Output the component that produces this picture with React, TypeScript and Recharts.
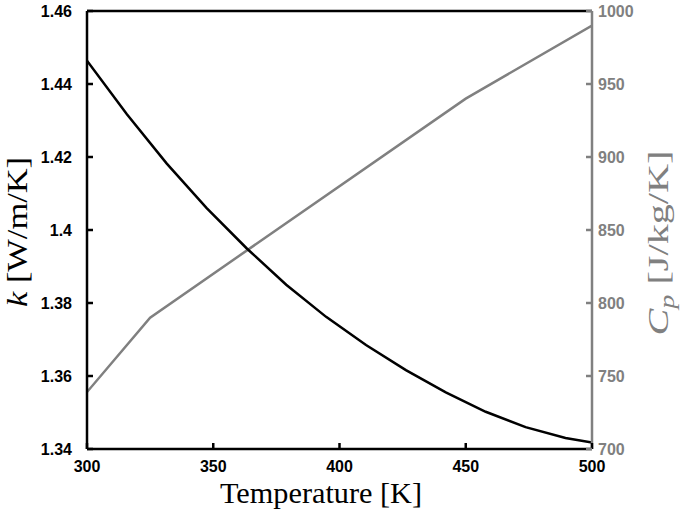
import React from 'react';
import { LineChart, Line, XAxis, YAxis } from 'recharts';

// temperature samples for the conductivity curve
const kTemps = [300, 315.8, 331.6, 347.4, 363.2, 378.9, 394.7, 410.5, 426.3, 442.1, 457.9, 473.7, 489.5, 500];
const kValues = [1.4464, 1.4317, 1.4182, 1.406, 1.395, 1.385, 1.3762, 1.3685, 1.3616, 1.3555, 1.3502, 1.346, 1.343, 1.3418];

// heat capacity breakpoints
const cpTemps = [300, 325, 450, 500];
const cpValues = [739, 790, 940, 990];

const tempTicks = [300, 350, 400, 450, 500];
const kTicks = [1.34, 1.36, 1.38, 1.4, 1.42, 1.44, 1.46];
const cpTicks = [700, 750, 800, 850, 900, 950, 1000];

const kData = kTemps.map((t, i) => ({ T: t, k: kValues[i] }));
const cpData = cpTemps.map((t, i) => ({ T: t, cp: cpValues[i] }));

const GRAY = '#808080';
const tickFont = { fontFamily: '"Liberation Sans", Arial, sans-serif', fontWeight: 700, fontSize: 16 };
const labelFont = { fontFamily: '"Liberation Serif", "Times New Roman", serif', fontSize: 30 };

const LeftTick = ({ x, y, payload }: any) => (
  <g>
    <line x1={x} x2={x + 6} y1={y} y2={y} stroke="#000" strokeWidth={2.5} />
    <text x={x - 15} y={y} dy="0.36em" textAnchor="end" fill="#000" {...tickFont}>
      {String(payload.value)}
    </text>
  </g>
);

const RightTick = ({ x, y, payload }: any) => (
  <g>
    <line x1={x} x2={x - 6} y1={y} y2={y} stroke={GRAY} strokeWidth={2.5} />
    <text x={x + 6} y={y} dy="0.36em" textAnchor="start" fill={GRAY} {...tickFont}>
      {String(payload.value)}
    </text>
  </g>
);

const BottomTick = ({ x, y, payload }: any) => (
  <g>
    <line x1={x} x2={x} y1={y} y2={y - 6} stroke="#000" strokeWidth={2.5} />
    <text x={x} y={y + 23} textAnchor="middle" fill="#000" {...tickFont}>
      {String(payload.value)}
    </text>
  </g>
);

const TempLabel = () => (
  <text x={321} y={503} textAnchor="middle" fill="#000" textLength={202} lengthAdjust="spacingAndGlyphs" {...labelFont}>
    Temperature [K]
  </text>
);

const KLabel = () => (
  <text x={27} y={232} transform="rotate(-90 27 232)" textAnchor="middle" fill="#000" textLength={150} lengthAdjust="spacingAndGlyphs" {...labelFont}>
    <tspan fontStyle="italic">k</tspan>
    <tspan> [W/m/K]</tspan>
  </text>
);

const CpLabel = () => (
  <text x={668} y={243} transform="rotate(-90 668 243)" textAnchor="middle" fill={GRAY} textLength={185} lengthAdjust="spacingAndGlyphs" {...labelFont}>
    <tspan fontStyle="italic">C</tspan>
    <tspan fontStyle="italic" fontSize={21} dy={6}>p</tspan>
    <tspan dy={-6}> [J/kg/K]</tspan>
  </text>
);

export default function App() {
  return (
    <div style={{ position: 'absolute', left: 0, top: 0, background: '#fff' }}>
      <LineChart width={685} height={511} margin={{ top: 10, right: 0, bottom: 61, left: 0 }}>
        <XAxis
          dataKey="T"
          type="number"
          domain={[300, 500]}
          ticks={tempTicks}
          allowDataOverflow
          height={1}
          tickSize={0}
          tickMargin={0}
          tickLine={false}
          tick={<BottomTick />}
          axisLine={{ stroke: '#000', strokeWidth: 2.5 }}
          label={<TempLabel />}
        />
        <XAxis
          xAxisId="top"
          orientation="top"
          dataKey="T"
          type="number"
          domain={[300, 500]}
          height={1}
          tick={false}
          tickLine={false}
          axisLine={{ stroke: '#000', strokeWidth: 2.5 }}
        />
        <YAxis
          yAxisId="k"
          type="number"
          domain={[1.34, 1.46]}
          ticks={kTicks}
          allowDataOverflow
          width={87}
          tickSize={0}
          tickMargin={0}
          tickLine={false}
          tick={<LeftTick />}
          axisLine={{ stroke: '#000', strokeWidth: 2.5 }}
          label={<KLabel />}
        />
        <YAxis
          yAxisId="cp"
          orientation="right"
          type="number"
          domain={[700, 1000]}
          ticks={cpTicks}
          allowDataOverflow
          width={93}
          tickSize={0}
          tickMargin={0}
          tickLine={false}
          tick={<RightTick />}
          axisLine={{ stroke: GRAY, strokeWidth: 2.5 }}
          label={<CpLabel />}
        />
        <Line
          yAxisId="cp"
          data={cpData}
          dataKey="cp"
          type="linear"
          stroke={GRAY}
          strokeWidth={2.5}
          dot={false}
          activeDot={false}
          isAnimationActive={false}
        />
        <Line
          yAxisId="k"
          data={kData}
          dataKey="k"
          type="linear"
          stroke="#000"
          strokeWidth={2.5}
          dot={false}
          activeDot={false}
          isAnimationActive={false}
        />
      </LineChart>
    </div>
  );
}
